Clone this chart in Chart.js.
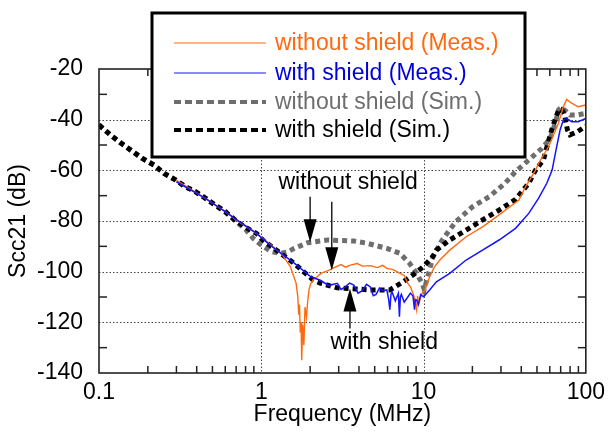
<!DOCTYPE html>
<html>
<head>
<meta charset="utf-8">
<script src="https://cdn.jsdelivr.net/npm/chart.js@4/dist/chart.umd.min.js"></script>
<style>
  html, body { margin: 0; padding: 0; background: #fff; }
</style>
</head>
<body>
<canvas id="chart" width="611" height="432"></canvas>
<script>
// frequency (MHz) / Scc21 (dB)
const simWithFreq = [0.1, 0.118, 0.137, 0.164, 0.185, 0.218, 0.252, 0.296, 0.341, 0.393, 0.452, 0.52, 0.6, 0.689, 0.79, 0.935, 1.02, 1.15, 1.59, 2.09, 2.33, 2.94, 3.83, 4.7, 6.2, 7.5, 8.6, 10, 11.4, 12, 14.5, 18.3, 23.1, 29.2, 36.9, 44.5, 48.9, 54.8, 58, 61.6, 64.6, 68, 71, 74, 77, 80, 89, 96, 100];
const simWithDb = [-42.1, -46.1, -49.3, -52.9, -55.3, -57.9, -61.2, -63.8, -66.5, -68.4, -71, -73.7, -76.3, -79.6, -82.3, -84.9, -87.5, -90, -96.7, -103.3, -104.6, -106.4, -106.8, -107.2, -107.2, -104, -101.3, -98, -94, -91.5, -87.5, -83.6, -79.6, -75.7, -71.5, -65.1, -60, -55.9, -50, -44.1, -40.1, -36.2, -36, -38.2, -44, -46, -44.7, -43.3, -42.5];

const simWithoutFreq = [0.1, 0.118, 0.137, 0.164, 0.185, 0.218, 0.252, 0.296, 0.341, 0.393, 0.452, 0.52, 0.6, 0.7, 0.8, 0.89, 1.0, 1.15, 1.3, 1.45, 1.6, 1.93, 2.56, 3.72, 4.5, 5.94, 7.16, 8.2, 9.06, 9.8, 10.1, 10.6, 11.4, 12.6, 13.2, 15.8, 20, 25.4, 31.8, 36.9, 44.5, 53.7, 60.3, 64.8, 67.9, 70.5, 75, 79.8, 87.7, 100];
const simWithoutDb = [-42.1, -46.1, -49.3, -52.9, -55.3, -57.9, -61.2, -63.8, -66.5, -68.4, -71, -73.7, -76.5, -80.2, -83.3, -86.8, -89.5, -92, -92.8, -92.2, -90.8, -88.6, -87.5, -87.9, -88.8, -90.8, -92.8, -96.7, -100.7, -104.6, -107, -102, -94.5, -89, -87, -80.3, -74.4, -70.4, -65.1, -60.5, -55.9, -51.3, -47.4, -41.4, -36.2, -35, -36.5, -38.2, -38.2, -37.5];

const measWithoutFreq = [0.3, 0.45, 0.6, 0.7, 0.935, 1.15, 1.35, 1.51, 1.64, 1.68, 1.7, 1.72, 1.74, 1.76, 1.77, 1.78, 1.8, 1.82, 1.83, 1.86, 1.9, 1.93, 1.97, 2.02, 2.1, 2.21, 2.33, 2.6, 2.81, 3.1, 3.3, 3.54, 3.9, 4.2, 4.7, 5.2, 5.6, 5.94, 6.5, 7.16, 7.6, 8.0, 8.3, 8.6, 8.8, 9.06, 9.2, 9.3, 9.5, 9.8, 10.2, 10.9, 11.7, 12.6, 14.5, 18.3, 23.1, 29.2, 35.2, 38.7, 42.5, 48.9, 51.2, 58.9, 67.8, 72.7, 76.2, 81.8, 89.8, 100];
const measWithoutDb = [-64, -71, -76.3, -79.6, -85, -89.5, -93.4, -98, -104.6, -110, -117, -113, -124, -120, -127, -135, -121, -126, -129, -114, -118, -112, -107, -104.6, -103, -102, -100.7, -99.5, -98.4, -97.2, -98.2, -97.4, -96.8, -97.8, -97.6, -98.4, -97.5, -98.7, -99.2, -100.7, -101.5, -104.6, -106, -108.5, -110.5, -115, -109.5, -113, -111.2, -108.5, -107.2, -102, -98, -95.4, -91.5, -86.2, -82.3, -77.6, -73.7, -71.7, -66.5, -60, -57.2, -50.7, -41.4, -34.9, -32, -33.5, -34.9, -34.2];

const measWithFreq = [0.3, 0.45, 0.6, 0.7, 0.935, 1.15, 1.59, 2.02, 2.33, 2.6, 2.94, 3.1, 3.3, 3.5, 3.72, 3.95, 4.2, 4.45, 4.7, 4.9, 5.1, 5.35, 5.6, 5.94, 6.1, 6.2, 6.3, 6.4, 6.7, 7.0, 7.1, 7.2, 7.3, 7.6, 8.0, 8.3, 8.6, 8.8, 8.9, 9.06, 9.3, 9.6, 10, 10.9, 12, 14.5, 18.3, 23.1, 29.2, 36.9, 44.5, 51.2, 57.5, 62, 65.5, 69.4, 72.7, 76, 81.8, 89.8, 100];
const measWithDb = [-64.5, -71, -76.3, -79.4, -84.9, -89.8, -96.5, -102, -103.5, -105.5, -104.6, -107, -106, -104.5, -105.3, -108.5, -107.5, -105, -106, -109.5, -109, -106.5, -107.5, -107.2, -111, -115, -109, -108, -111.5, -108.5, -117.8, -110, -109, -112, -110, -108.5, -109.5, -115, -111, -111.2, -113, -109, -109.9, -107.2, -104, -100.7, -95.4, -91.5, -87.5, -82.9, -77, -71, -65.1, -59.9, -52, -44.1, -40.1, -39.5, -40.8, -40.8, -39.5];

const xTickValues = [0.1, 1, 10, 100];
const xGridValues = [1, 10];
const yGridValues = [-40, -60, -80, -100, -120];

const legendLabels = ['without shield (Meas.)', 'with shield (Meas.)', 'without shield (Sim.)', 'with shield (Sim.)'];

function pts(xs, ys) {
  return xs.map((v, i) => ({ x: v, y: ys[i] }));
}

const FONT = 'Arial, "Liberation Sans", Helvetica, sans-serif';
const ORANGE = '#ff6a10';
const BLUE = '#1414ff';
const GRAY = '#6e6e6e';

// legend box, ticks, grid and notes
const decorations = {
  id: 'decorations',
  beforeDatasetsDraw(chart) {
    const { ctx, chartArea: a, scales: { x, y } } = chart;
    ctx.save();
    ctx.strokeStyle = '#444';
    ctx.lineWidth = 1;
    ctx.setLineDash([1.5, 2]);
    xGridValues.forEach(v => {
      const px = Math.round(x.getPixelForValue(v)) + 0.5;
      ctx.beginPath(); ctx.moveTo(px, a.top); ctx.lineTo(px, a.bottom); ctx.stroke();
    });
    yGridValues.forEach(v => {
      const py = Math.round(y.getPixelForValue(v)) + 0.5;
      ctx.beginPath(); ctx.moveTo(a.left, py); ctx.lineTo(a.right, py); ctx.stroke();
    });
    ctx.restore();
  },
  afterDatasetsDraw(chart) {
    const { ctx, chartArea: a, scales: { x, y } } = chart;
    ctx.save();
    ctx.strokeStyle = '#222';
    ctx.lineWidth = 1.5;
    // minor ticks, log x
    for (let d = 0.1; d < 100; d *= 10) {
      for (let m = 2; m <= 9; m++) {
        const px = x.getPixelForValue(d * m);
        ctx.beginPath(); ctx.moveTo(px, a.bottom); ctx.lineTo(px, a.bottom - 7); ctx.stroke();
        ctx.beginPath(); ctx.moveTo(px, a.top); ctx.lineTo(px, a.top + 7); ctx.stroke();
      }
    }
    for (let v = -130; v <= -30; v += 20) {
      const py = y.getPixelForValue(v);
      ctx.beginPath(); ctx.moveTo(a.left, py); ctx.lineTo(a.left + 8, py); ctx.stroke();
      ctx.beginPath(); ctx.moveTo(a.right, py); ctx.lineTo(a.right - 8, py); ctx.stroke();
    }
    ctx.lineWidth = 1.6;
    ctx.strokeRect(a.left, a.top, a.right - a.left, a.bottom - a.top);
    ctx.restore();
  },
  afterDraw(chart) {
    const { ctx, scales: { x, y } } = chart;
    ctx.save();

    // legend
    ctx.fillStyle = '#fff';
    ctx.fillRect(152, 13, 373, 144);
    ctx.strokeStyle = '#000';
    ctx.lineWidth = 3;
    ctx.strokeRect(152, 13, 373, 144);

    const rows = [
      { y: 43, color: ORANGE, text: ORANGE, dash: [], w: 1.2 },
      { y: 73, color: BLUE, text: '#0000d8', dash: [], w: 1.2 },
      { y: 102, color: GRAY, text: GRAY, dash: [7, 4], w: 4 },
      { y: 130, color: '#000', text: '#000', dash: [7, 4], w: 4 }
    ];
    ctx.font = '23px ' + FONT;
    ctx.textBaseline = 'middle';
    ctx.textAlign = 'left';
    rows.forEach((r, i) => {
      ctx.strokeStyle = r.color;
      ctx.lineWidth = r.w;
      ctx.setLineDash(r.dash);
      ctx.beginPath(); ctx.moveTo(174, r.y); ctx.lineTo(266, r.y); ctx.stroke();
      ctx.setLineDash([]);
      ctx.fillStyle = r.text;
      ctx.fillText(legendLabels[i], 275, r.y + 1);
    });

    // notes with arrows
    function arrow(f, fromDb, toDb) {
      const px = x.getPixelForValue(f);
      const p0 = y.getPixelForValue(fromDb);
      const p1 = y.getPixelForValue(toDb);
      const dir = p1 > p0 ? 1 : -1;
      ctx.strokeStyle = '#000';
      ctx.lineWidth = 1.3;
      ctx.beginPath(); ctx.moveTo(px, p0); ctx.lineTo(px, p1 - dir * 20); ctx.stroke();
      ctx.fillStyle = '#000';
      ctx.beginPath();
      ctx.moveTo(px, p1);
      ctx.lineTo(px - 6.5, p1 - dir * 23);
      ctx.lineTo(px + 6.5, p1 - dir * 23);
      ctx.closePath();
      ctx.fill();
    }
    arrow(2.0, -70.4, -88.4);
    arrow(2.72, -72.4, -99.4);
    arrow(3.52, -122.4, -106.6);

    ctx.fillStyle = '#000';
    ctx.textAlign = 'center';
    ctx.fillText('without shield', x.getPixelForValue(3.43), y.getPixelForValue(-64.9));
    ctx.fillText('with shield', x.getPixelForValue(5.73), y.getPixelForValue(-128.1));
    ctx.restore();
  }
};

// first dataset is drawn on top
new Chart(document.getElementById('chart'), {
  type: 'scatter',
  data: {
    datasets: [
      {
        label: legendLabels[1],
        data: pts(measWithFreq, measWithDb),
        showLine: true,
        borderColor: BLUE,
        borderWidth: 1.5,
        pointRadius: 0
      },
      {
        label: legendLabels[0],
        data: pts(measWithoutFreq, measWithoutDb),
        showLine: true,
        borderColor: ORANGE,
        borderWidth: 1.4,
        pointRadius: 0
      },
      {
        label: legendLabels[3],
        data: pts(simWithFreq, simWithDb),
        showLine: true,
        borderColor: '#000',
        borderWidth: 5,
        borderDash: [5, 4],
        pointRadius: 0
      },
      {
        label: legendLabels[2],
        data: pts(simWithoutFreq, simWithoutDb),
        showLine: true,
        borderColor: GRAY,
        borderWidth: 5,
        borderDash: [5, 4],
        pointRadius: 0
      }
    ]
  },
  options: {
    responsive: false,
    animation: false,
    layout: {
      padding: { left: 0, right: 20, top: 69, bottom: 0 }
    },
    plugins: {
      legend: { display: false },
      tooltip: { enabled: false }
    },
    scales: {
      x: {
        type: 'logarithmic',
        min: 0.1,
        max: 100,
        afterBuildTicks: s => { s.ticks = xTickValues.map(v => ({ value: v })); },
        afterFit: s => { s.height = 59; },
        grid: { display: false, drawTicks: false },
        border: { display: false },
        ticks: {
          color: '#000',
          padding: 6,
          maxRotation: 0,
          autoSkip: false,
          font: { family: FONT, size: 23 },
          callback: v => String(v)
        },
        title: {
          display: true,
          text: 'Frequency (MHz)',
          color: '#000',
          font: { family: FONT, size: 23 },
          padding: { top: 0, bottom: 4 }
        }
      },
      y: {
        min: -140,
        max: -20,
        afterFit: s => { s.width = 99; },
        grid: { display: false, drawTicks: false },
        border: { display: false },
        ticks: {
          stepSize: 20,
          color: '#000',
          padding: 16,
          font: { family: FONT, size: 23 }
        },
        title: {
          display: true,
          text: 'Scc21 (dB)',
          color: '#000',
          font: { family: FONT, size: 23 },
          padding: { top: 5, bottom: 0 }
        }
      }
    }
  },
  plugins: [decorations]
});
</script>
</body>
</html>
